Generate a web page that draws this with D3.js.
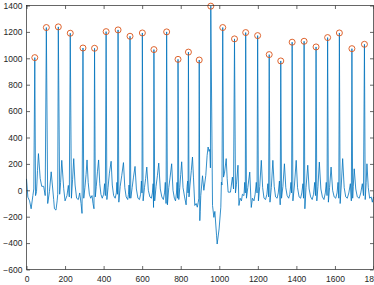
<!DOCTYPE html>
<html>
<head>
<meta charset="utf-8">
<script src="https://cdn.jsdelivr.net/npm/d3@7"></script>
<style>
  body { margin: 0; background: #fff; }
  svg { display: block; }
  text { font-family: "Liberation Sans", Arial, sans-serif; }
</style>
</head>
<body>
<div id="chart"></div>
<script>
// detected R peaks (sample index, amplitude)
const peakX = [43, 103, 165, 227, 293, 353, 413, 475, 537, 601, 661, 727, 786, 840, 896,
               956, 1018, 1079, 1137, 1199, 1259, 1319, 1378, 1440, 1502, 1562, 1623, 1688, 1753];
const peakY = [1005, 1233, 1238, 1190, 1078, 1076, 1202, 1215, 1167, 1192, 1066, 1200, 992, 1047, 987,
               1395, 1233, 1147, 1195, 1172, 1028, 980, 1122, 1129, 1086, 1157, 1192, 1073, 1106];

// signal between the peaks (sample index, value)
const signal = [
  [0, 87], [7, -52], [16, -80], [24, -140], [33, -40], [38, 10],
  [47, -40], [52, -10], [57, 150], [62, 278], [71, 90], [79, 30], [89, 30], [97, -40],
  [110, -100], [119, -10], [128, 140], [141, -70], [145, -140], [153, -150], [159, -80], [162, -30],
  [172, -30], [177, 60], [183, 227], [193, 12], [200, -80], [210, -40], [217, 37], [222, -50],
  [233, -60], [239, 80], [245, 240], [252, 40], [260, -60], [269, -70], [276, -20], [283, -100], [288, -175],
  [297, -60], [303, 20], [309, 120], [314, 230], [320, 60], [326, -30], [333, -60], [340, -40], [345, -100], [350, -140],
  [357, -50], [362, 30], [368, 140], [374, 230], [380, 50], [386, -30], [393, -60], [400, -30], [405, 50], [409, -40],
  [417, -70], [423, 20], [430, 130], [439, 220], [445, 40], [452, -40], [460, -60], [466, -20], [469, 60], [472, -30],
  [479, -90], [486, 30], [494, 110], [503, 210], [510, 20], [517, -50], [525, -70], [529, -30], [532, 40], [535, -60],
  [541, -60], [548, 20], [555, 100], [563, 181], [570, 10], [578, -60], [586, -70], [592, -30], [596, 70], [599, -20],
  [605, -80], [612, 20], [618, 90], [624, 176], [632, 0], [640, -50], [648, -60], [653, -20], [657, 50], [659, -130],
  [665, -80], [672, 30], [679, 110], [686, 206], [694, 10], [702, -50], [710, -70], [716, -20], [720, 60], [724, -100],
  [731, -110], [738, 20], [745, 100], [753, 201], [760, 0], [767, -60], [773, -80], [778, -20], [781, 60], [784, -60],
  [790, -70], [795, 20], [800, 120], [805, 216], [812, 20], [820, -50], [828, -110], [833, 30], [836, 70], [838, -20],
  [843, -50], [848, 40], [855, 150], [861, 252], [866, 100], [873, -115], [880, -100], [886, -128], [891, -90], [894, -60],
  [899, -230], [901, -160], [904, -40], [913, 110], [920, 0], [930, 113], [937, 265], [942, 328], [947, 295], [951, 310], [954, 170],
  [965, -115], [972, -205], [977, -160], [986, -345], [989, -407], [999, -293], [1008, -128], [1011, 62], [1014, 40],
  [1022, 100], [1027, 130], [1036, 240], [1041, 88], [1046, -14], [1058, -14], [1068, 100], [1074, 10],
  [1084, -20], [1089, 42], [1097, 190], [1102, -115], [1108, -60], [1115, -80], [1120, -30], [1128, -40], [1132, 60], [1135, -20],
  [1141, -60], [1148, 20], [1158, 138], [1166, -130], [1172, -60], [1180, -80], [1186, -30], [1192, 60], [1196, -20],
  [1203, -80], [1210, 30], [1218, 227], [1225, 20], [1232, -60], [1240, -70], [1247, -30], [1252, 50], [1256, -50],
  [1263, -90], [1270, 20], [1278, 227], [1285, 30], [1292, -50], [1300, -60], [1306, -20], [1312, 70], [1316, -110],
  [1323, -60], [1330, 30], [1338, 201], [1345, 20], [1352, -40], [1360, -60], [1366, -30], [1372, 60], [1375, -20],
  [1382, -80], [1390, 40], [1399, 227], [1406, 20], [1414, -50], [1422, -60], [1428, -20], [1434, 50], [1437, -60],
  [1444, -140], [1450, 20], [1459, 190], [1466, 10], [1474, -50], [1482, -70], [1489, -30], [1495, 60], [1499, -40],
  [1506, -80], [1512, 30], [1519, 214], [1527, 10], [1535, -50], [1543, -70], [1550, -20], [1555, 60], [1559, -40],
  [1566, -90], [1572, 20], [1580, 176], [1588, 0], [1596, -50], [1604, -60], [1611, -20], [1616, 60], [1620, -60],
  [1627, -100], [1633, 40], [1640, 240], [1648, 20], [1656, -50], [1664, -60], [1672, -20], [1680, 50], [1685, -80],
  [1692, -60], [1695, 30], [1700, 163], [1708, 10], [1716, -50], [1726, -60], [1734, -20], [1742, 50], [1748, -40],
  [1757, -70], [1762, 60], [1766, 201], [1773, 20], [1780, -60], [1788, -50], [1794, -90], [1800, -50]
];

const xTicks = [0, 200, 400, 600, 800, 1000, 1200, 1400, 1600, 1800];
const yTicks = [-600, -400, -200, 0, 200, 400, 600, 800, 1000, 1200, 1400];

const W = 374, H = 285;
const plot = { left: 26.5, right: 373.5, top: 5.5, bottom: 269.5 };
const axisColor = '#262626';

const svg = d3.select('#chart').append('svg')
  .attr('width', W)
  .attr('height', H);

const x = d3.scaleLinear().domain([0, 1800]).range([plot.left, plot.right]);
const y = d3.scaleLinear().domain([-600, 1400]).range([plot.bottom, plot.top]);

// merge peaks into the trace
const peaks = peakX.map((d, i) => [d, peakY[i]]);
const trace = signal.concat(peaks).sort((a, b) => a[0] - b[0]);

svg.append('path')
  .attr('d', d3.line().x(d => x(d[0])).y(d => y(d[1]))(trace))
  .attr('fill', 'none')
  .attr('stroke', '#0072BD')
  .attr('stroke-width', 0.8)
  .attr('stroke-linejoin', 'round');

svg.append('g')
  .selectAll('circle')
  .data(peaks)
  .join('circle')
  .attr('cx', d => x(d[0]))
  .attr('cy', d => y(d[1]))
  .attr('r', 3)
  .attr('fill', 'none')
  .attr('stroke', '#D95319')
  .attr('stroke-width', 0.9);

// axes, ticks pointing inward like matlab
function style_axis(g) {
  g.select('.domain').remove();
  g.selectAll('line').attr('stroke', axisColor).attr('stroke-width', 0.7);
  g.selectAll('text').attr('fill', axisColor).attr('font-size', 8.5);
}

svg.append('g')
  .attr('transform', `translate(0,${plot.bottom})`)
  .call(d3.axisBottom(x).tickValues(xTicks).tickSize(-3.5).tickPadding(6).tickFormat(d3.format('d')))
  .call(style_axis);

svg.append('g')
  .attr('transform', `translate(${plot.left},0)`)
  .call(d3.axisLeft(y).tickValues(yTicks).tickSize(-3.5).tickPadding(4).tickFormat(d3.format('d')))
  .call(style_axis);

svg.append('g')
  .attr('transform', `translate(0,${plot.top})`)
  .call(d3.axisTop(x).tickValues(xTicks).tickSize(-3.5).tickFormat(''))
  .call(style_axis);

svg.append('g')
  .attr('transform', `translate(${plot.right},0)`)
  .call(d3.axisRight(y).tickValues(yTicks).tickSize(-3.5).tickFormat(''))
  .call(style_axis);

svg.append('rect')
  .attr('x', plot.left)
  .attr('y', plot.top)
  .attr('width', plot.right - plot.left)
  .attr('height', plot.bottom - plot.top)
  .attr('fill', 'none')
  .attr('stroke', axisColor)
  .attr('stroke-width', 0.7);
</script>
</body>
</html>
